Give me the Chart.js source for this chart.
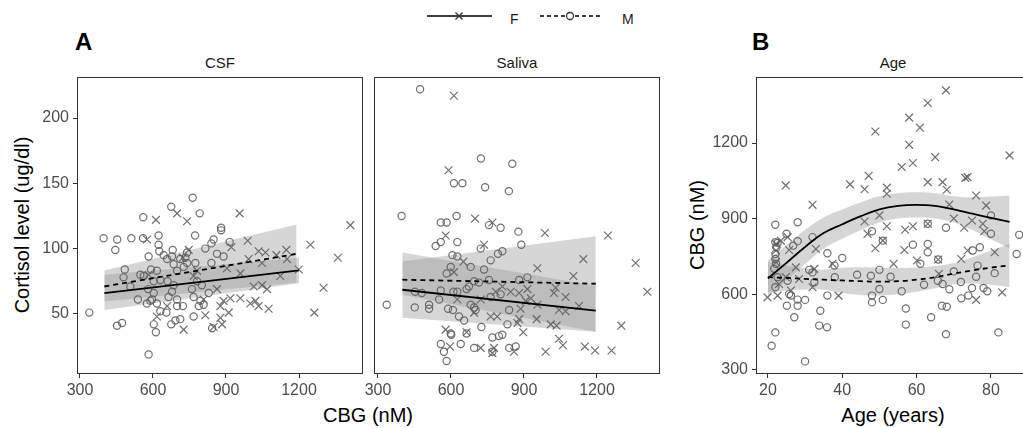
<!DOCTYPE html>
<html>
<head>
<meta charset="utf-8">
<script src="https://cdn.jsdelivr.net/npm/chart.js@4"></script>
<style>
html, body { margin: 0; padding: 0; background: #fff; overflow: hidden; width: 1023px; height: 428px; }
body { position: relative; font-family: "Liberation Sans", Arial, sans-serif; }
canvas { position: absolute; left: 0; top: 0; }
.t { position: absolute; white-space: nowrap; line-height: 1; color: #000; }
.panel { font-weight: bold; font-size: 24px; }
.strip { font-size: 15px; color: #1a1a1a; transform: translateX(-50%); }
.xtitle { font-size: 20px; transform: translateX(-50%); }
.ytitle { font-size: 20px; transform: translate(-50%, -50%) rotate(-90deg); }
.leg { font-size: 14px; color: #1a1a1a; }
</style>
</head>
<body>

<svg width="1023" height="30" style="position:absolute;left:0;top:0">
  <line x1="427" y1="16" x2="492" y2="16" stroke="#000" stroke-width="1.6"/>
  <path d="M455.5 12.5 L462.5 19.5 M455.5 19.5 L462.5 12.5" stroke="#333" stroke-width="1.3"/>
  <line x1="540" y1="16" x2="600" y2="16" stroke="#000" stroke-width="1.6" stroke-dasharray="4 3"/>
  <circle cx="570" cy="16" r="3.5" fill="#fff" stroke="#333" stroke-width="1.3"/>
</svg>
<div class="t leg" style="left:510px;top:11.5px">F</div>
<div class="t leg" style="left:622px;top:11.5px">M</div>

<div class="t panel" style="left:75px;top:30px">A</div>
<div class="t panel" style="left:752px;top:30px">B</div>
<div class="t strip" style="left:220px;top:55px">CSF</div>
<div class="t strip" style="left:517px;top:55px">Saliva</div>
<div class="t strip" style="left:893px;top:55px">Age</div>
<div class="t ytitle" style="left:22px;top:225px">Cortisol level (ug/dl)</div>
<div class="t ytitle" style="left:697px;top:225px">CBG (nM)</div>
<div class="t xtitle" style="left:368px;top:405px">CBG (nM)</div>
<div class="t xtitle" style="left:893px;top:405px">Age (years)</div>

<canvas id="csf" width="1023" height="428"></canvas>
<canvas id="saliva" width="1023" height="428"></canvas>
<canvas id="age" width="1040" height="428"></canvas>

<script>
// ---- tick labels
const cortisolTicks = [50, 100, 150, 200];
const cbgTicks = [300, 600, 900, 1200];
const ageTicks = [20, 40, 60, 80];
const ageCbgTicks = [300, 600, 900, 1200];

// ---- panel A, CSF: [CBG nM, cortisol]
const csfMale = [[763,139],[675,132],[792,127],[560,124],[880,116],[880,114],[773,110],[397,108],[453,107],[511,108],[559,108],[623,110],[445,99],[623,103],[626,98],[681,99],[678,94],[582,94],[644,95],[849,107],[840,104],[815,100],[915,105],[863,96],[890,94],[740,97],[733,93],[712,92],[740,89],[726,86],[658,92],[685,88],[484,84],[479,78],[548,80],[562,79],[592,84],[616,83],[774,89],[699,83],[840,89],[603,75],[630,76],[507,71],[580,69],[603,66],[596,61],[660,75],[685,72],[678,67],[760,69],[781,75],[801,72],[538,61],[589,60],[616,58],[575,58],[664,63],[699,61],[767,63],[795,60],[808,57],[788,56],[829,66],[723,56],[699,56],[338,51],[655,51],[630,52],[767,48],[452,41],[473,43],[603,42],[612,36],[675,42],[692,45],[712,46],[843,39],[582,19]];
const csfFemale = [[612,122],[699,127],[740,121],[956,127],[1411,118],[575,107],[989,106],[1247,103],[922,101],[1034,98],[1062,97],[1107,95],[1148,99],[1151,92],[747,99],[723,93],[1360,93],[904,85],[993,92],[1048,89],[1199,84],[781,83],[767,79],[959,81],[1123,79],[582,80],[1301,70],[863,69],[1014,71],[1048,72],[1069,69],[918,62],[959,62],[1021,60],[890,60],[808,61],[1034,56],[1075,54],[1000,58],[877,56],[911,51],[877,47],[815,49],[616,48],[1263,51],[884,42],[849,40],[726,38],[658,56]];
const csfFitX = [400, 1200];
const csfFemaleFit = [66, 83.3];
const csfFemaleUpper = [80, 93];
const csfFemaleLower = [53, 73.5];
const csfMaleFitX = [400, 1190];
const csfMaleFit = [71, 96];
const csfMaleUpper = [83.3, 118.5];
const csfMaleLower = [59.5, 74];

// ---- panel A, Saliva
const salivaMale = [[473,222],[723,169],[852,165],[612,150],[647,150],[740,147],[838,144],[397,125],[623,125],[558,120],[582,120],[756,118],[804,116],[877,113],[626,105],[537,102],[558,105],[889,103],[722,100],[811,98],[793,96],[606,95],[626,94],[763,91],[681,86],[599,86],[582,81],[736,84],[695,75],[756,76],[880,76],[914,78],[674,71],[664,69],[715,74],[452,67],[480,66],[558,68],[610,67],[626,67],[551,61],[588,54],[608,53],[510,57],[510,54],[451,55],[336,57],[681,57],[695,55],[763,63],[804,65],[633,48],[701,53],[839,53],[654,45],[832,42],[725,40],[599,35],[601,34],[664,35],[770,32],[797,33],[811,34],[558,27],[640,27],[695,24],[571,21],[582,14],[770,21],[839,24],[866,25]];
const salivaFemale = [[612,217],[590,160],[699,123],[770,120],[578,110],[736,103],[986,112],[1245,110],[1359,89],[1144,92],[955,85],[1103,79],[1407,67],[1030,70],[1023,66],[1071,63],[914,69],[928,62],[880,66],[845,67],[811,71],[784,67],[722,61],[612,82],[651,90],[955,57],[1044,53],[1071,52],[1126,56],[886,54],[907,60],[952,46],[880,46],[873,43],[1010,42],[1034,41],[1300,41],[897,36],[1044,31],[1060,26],[1150,25],[1192,22],[1260,22],[989,21],[859,21],[777,24],[770,20],[722,24],[596,25],[578,38],[664,36],[763,48],[695,51],[626,61],[790,48]];
const salivaFitX = [400, 1195];
const salivaFemaleFit = [68.5, 52.6];
const salivaFemaleUpper = [97, 71.5];
const salivaFemaleLower = [47, 36.4];
const salivaMaleFit = [76.2, 73.1];
const salivaMaleUpper = [90.2, 109.5];
const salivaMaleLower = [64.6, 36.4];

// ---- panel B, Age: [age, CBG nM]
const ageFemale = [[67.9,1409],[63,1359],[58,1301],[60.9,1261],[48.9,1246],[58,1193],[65,1144],[85,1151],[56,1105],[59,1121],[24.8,1032],[32,955],[42.1,1036],[46,1017],[47.1,1070],[52,1023],[52,999],[63,1045],[67,1045],[68.1,1015],[73.1,1062],[73.7,1065],[68.8,956],[76,992],[78.7,952],[46,889],[50,913],[52,870],[46.8,840],[56.9,856],[59,870],[63,880],[70,901],[72.8,864],[74.9,893],[77.8,880],[78.2,850],[48.9,783],[56.7,776],[81,767],[73.7,774],[72,740],[60.1,734],[53.8,721],[50.9,813],[65.8,738],[66,681],[19.9,588],[22.6,595],[22.2,800],[22.2,774],[23.5,813],[25.3,827],[22.2,727],[23,641],[24.8,668],[27.5,707],[26.2,615],[32,628],[32.5,701],[32.9,780],[25.7,776],[28.4,661],[39,595],[76,578],[83,608],[37.4,721]];
const ageMale = [[22,876],[28,886],[25,840],[22,807],[22.6,804],[22.3,787],[28,811],[26.8,793],[32,827],[36,763],[40,744],[37.9,714],[31.1,697],[32,687],[32.5,648],[22,760],[22,740],[22.2,721],[21.7,701],[22.6,668],[22,628],[25.3,654],[25.7,601],[26.2,595],[25.1,555],[28,579],[28,555],[30,578],[27.1,509],[34.1,535],[33.8,476],[35.9,469],[22,449],[21,396],[30,334],[38,668],[36,595],[44,678],[48,850],[47.7,674],[50,697],[50,621],[48,595],[48,568],[50.9,578],[53,670],[56,612],[57.1,544],[57.1,480],[59,797],[61,721],[62,638],[63,800],[63,767],[63.9,509],[65.7,654],[67,641],[66.8,555],[68.1,551],[67.9,442],[67.9,864],[68.8,620],[70,691],[71.9,649],[72,584],[73.9,595],[74.9,625],[75.1,774],[76,670],[76.4,714],[77,787],[78,625],[79,612],[80,913],[80,840],[81,684],[82,449],[86.9,760],[87.6,836],[50.9,813],[65.8,738],[63,880]];
const ageFitX = [20, 25, 30, 35, 40, 45, 50, 55, 60, 65, 70, 75, 80, 85];
const ageFemaleFit = [663, 725, 788, 843, 878, 910, 937, 951, 955, 951, 937, 920, 903, 887];
const ageFemaleUpper = [735, 795, 856, 905, 936, 965, 989, 1001, 1005, 1001, 989, 985, 988, 992];
const ageFemaleLower = [591, 655, 720, 781, 820, 855, 885, 901, 905, 901, 885, 855, 818, 782];
const ageMaleFit = [668, 665, 661, 658, 655, 652, 650, 652, 658, 668, 682, 695, 706, 715];
const ageMaleUpper = [728, 715, 703, 698, 705, 707, 705, 704, 706, 712, 724, 747, 774, 801];
const ageMaleLower = [608, 615, 619, 618, 605, 597, 595, 600, 610, 624, 640, 643, 638, 629];

// ---- styling
const FONT = '"Liberation Sans", Arial, sans-serif';
const TICK_GREY = '#4d4d4d';
const POINT_GREY = 'rgba(95,95,95,0.9)';
const BAND = 'rgba(153,153,153,0.4)';

const frame = {
  id: 'frame',
  afterDraw(chart) {
    const a = chart.chartArea, c = chart.ctx;
    c.save();
    c.strokeStyle = '#333';
    c.lineWidth = 1;
    c.strokeRect(a.left + 0.5, a.top + 0.5, a.right - a.left - 1, a.bottom - a.top - 1);
    c.restore();
  }
};

const pairs = arr => arr.map(([x, y]) => ({ x, y }));
const zip = (xs, ys) => xs.map((x, i) => ({ x, y: ys[i] }));

function band(xs, up, lo, tension) {
  return [
    { type: 'line', data: zip(xs, up), fill: '+1', backgroundColor: BAND, borderWidth: 0, pointRadius: 0, tension, order: 3 },
    { type: 'line', data: zip(xs, lo), fill: false, borderWidth: 0, pointRadius: 0, tension, order: 3 }
  ];
}

function scatterSet(data, style) {
  return {
    type: 'scatter', data: pairs(data), pointStyle: style,
    pointRadius: style === 'crossRot' ? 5.5 : 3.6,
    borderColor: POINT_GREY, backgroundColor: 'rgba(0,0,0,0)', borderWidth: 1.2, order: 2
  };
}

function fitLine(xs, ys, dashed, tension) {
  return {
    type: 'line', data: zip(xs, ys), borderColor: '#000', borderWidth: 1.8,
    borderDash: dashed ? [5, 4] : [], pointRadius: 0, fill: false, tension, order: 1
  };
}

function axis(min, max, ticks, size, show) {
  const horizontal = size.h !== undefined;
  return {
    type: 'linear', min, max, display: show,
    afterBuildTicks: s => { s.ticks = ticks.map(v => ({ value: v })); },
    afterFit: s => { if (horizontal) s.height = size.h; else s.width = size.w; },
    grid: { drawOnChartArea: false, tickLength: 4, color: '#333', lineWidth: 1 },
    border: { display: false },
    ticks: { color: TICK_GREY, font: { size: 16, family: FONT }, padding: horizontal ? 3 : 4, callback: v => String(v) }
  };
}

function makeChart(id, datasets, scales, padding) {
  new Chart(document.getElementById(id), {
    type: 'scatter',
    data: { datasets },
    options: {
      responsive: false, animation: false, events: [],
      layout: { padding },
      plugins: { legend: { display: false }, tooltip: { enabled: false } },
      scales
    },
    plugins: [frame]
  });
}

// CSF
makeChart('csf', [
  ...band(csfFitX, csfFemaleUpper, csfFemaleLower, 0),
  ...band(csfMaleFitX, csfMaleUpper, csfMaleLower, 0),
  scatterSet(csfMale, 'circle'),
  scatterSet(csfFemale, 'crossRot'),
  fitLine(csfFitX, csfFemaleFit, false, 0),
  fitLine(csfMaleFitX, csfMaleFit, true, 0)
], {
  x: axis(287.7, 1463, cbgTicks, { h: 54 }, true),
  y: axis(4, 231.4, cortisolTicks, { w: 77 }, true)
}, { left: 0, right: 660, top: 77, bottom: 0 });

// Saliva
makeChart('saliva', [
  ...band(salivaFitX, salivaFemaleUpper, salivaFemaleLower, 0),
  ...band(salivaFitX, salivaMaleUpper, salivaMaleLower, 0),
  scatterSet(salivaMale, 'circle'),
  scatterSet(salivaFemale, 'crossRot'),
  fitLine(salivaFitX, salivaFemaleFit, false, 0),
  fitLine(salivaFitX, salivaMaleFit, true, 0)
], {
  x: axis(283.6, 1459, cbgTicks, { h: 54 }, true),
  y: axis(4, 231.4, cortisolTicks, { w: 0 }, false)
}, { left: 374, right: 363, top: 77, bottom: 0 });

// Age
makeChart('age', [
  ...band(ageFitX, ageFemaleUpper, ageFemaleLower, 0.4),
  ...band(ageFitX, ageMaleUpper, ageMaleLower, 0.4),
  scatterSet(ageMale, 'circle'),
  scatterSet(ageFemale, 'crossRot'),
  fitLine(ageFitX, ageFemaleFit, false, 0.4),
  fitLine(ageFitX, ageMaleFit, true, 0.4)
], {
  x: axis(16.8, 90.5, ageTicks, { h: 54 }, true),
  y: axis(284, 1462, ageCbgTicks, { w: 756 }, true)
}, { left: 0, right: 10, top: 77, bottom: 0 });
</script>
</body>
</html>
